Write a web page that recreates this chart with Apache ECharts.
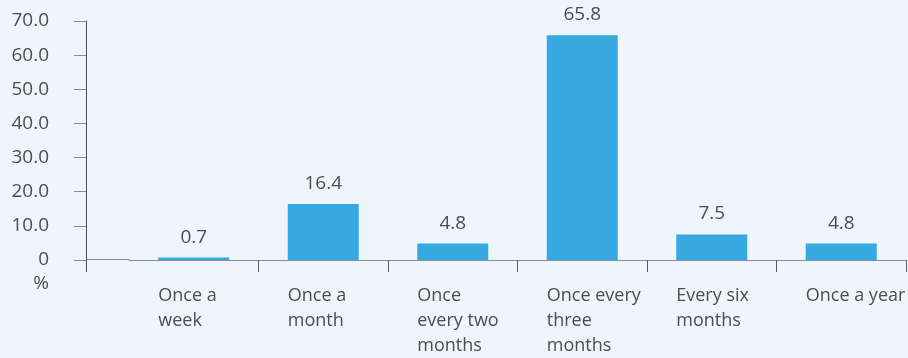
<!DOCTYPE html>
<html>
<head>
<meta charset="utf-8">
<script src="https://cdn.jsdelivr.net/npm/echarts@6/dist/echarts.min.js"></script>
<style>
html,body{margin:0;padding:0;background:#eef5fc;}
#chart{width:908px;height:358px;}
</style>
</head>
<body>
<div id="chart"></div>
<script>
var categories = ["Once a\nweek", "Once a\nmonth", "Once\nevery two\nmonths", "Once every\nthree\nmonths", "Every six\nmonths", "Once a year"];
var values = [0.7, 16.4, 4.8, 65.8, 7.5, 4.8];
var yTicks = [0, 10, 20, 30, 40, 50, 60, 70];
var yUnit = "%";

var FONT = "Open Sans";
var FS = 19;
var TXT = "#4d4d4d";
var chart = echarts.init(document.getElementById('chart'), null, {renderer: 'canvas'});
chart.setOption({
  backgroundColor: '#eef5fc',
  animation: false,
  grid: {left: 129, right: 2, top: 21, bottom: 98, containLabel: false, outerBoundsMode: 'none'},
  xAxis: {
    type: 'category',
    data: categories,
    boundaryGap: true,
    axisLine: {show: true, lineStyle: {color: '#8c8c8c', width: 1}},
    axisTick: {show: true, length: 12, lineStyle: {color: '#5a5a5a'},
      interval: function (i) { return i !== 0; }},
    axisLabel: {
      interval: 0, align: 'left', margin: 23, padding: [0, 0, 0, -35.5],
      fontFamily: FONT, fontSize: 18, lineHeight: 25, color: TXT
    }
  },
  yAxis: {
    type: 'value',
    min: yTicks[0], max: yTicks[yTicks.length - 1], interval: 10,
    offset: 43,
    name: yUnit, nameLocation: 'start', nameGap: 14,
    nameTextStyle: {fontFamily: FONT, fontSize: FS, color: TXT, align: 'right', padding: [0, 37, 0, 0]},
    splitLine: {show: false},
    axisLine: {show: true, lineStyle: {color: '#4d4d4d', width: 1}},
    axisTick: {show: true, length: 12, lineStyle: {color: '#8c8c8c'}},
    axisLabel: {
      margin: 37, fontFamily: FONT, fontSize: FS, color: TXT,
      formatter: function (v) { return v === 0 ? '0' : v.toFixed(1); }
    }
  },
  series: [{
    type: 'bar',
    data: values,
    barWidth: 71,
    itemStyle: {color: '#36a9e0'},
    label: {
      show: true, position: 'top', distance: 11,
      fontFamily: FONT, fontSize: FS, color: TXT,
      formatter: function (p) { return p.value.toFixed(1); }
    }
  }],
  graphic: [
    {type: 'line', shape: {x1: 86.5, y1: 259.5, x2: 86.5, y2: 272}, style: {stroke: '#4d4d4d', lineWidth: 1}},
    {type: 'line', shape: {x1: 86, y1: 259.5, x2: 129, y2: 259.5}, style: {stroke: '#8c8c8c', lineWidth: 1}}
  ]
});
</script>
</body>
</html>
